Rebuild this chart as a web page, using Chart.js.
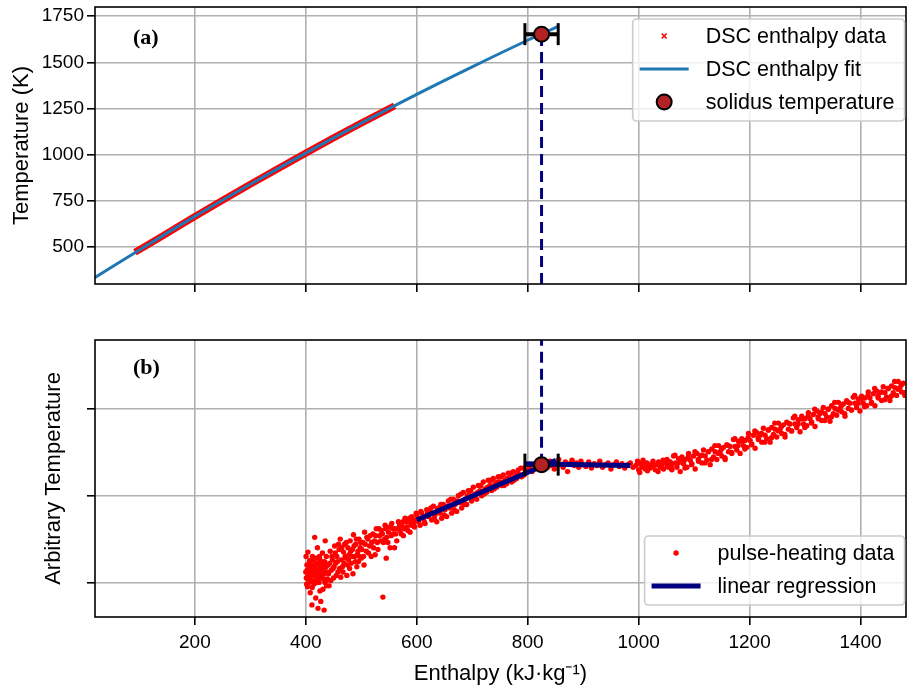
<!DOCTYPE html>
<html>
<head>
<meta charset="utf-8">
<script src="https://cdn.jsdelivr.net/npm/chart.js@4.4.0/dist/chart.umd.min.js"></script>
<style>
body{margin:0;background:#fff;}
#lienzo{position:relative;width:907px;height:689px;background:#fff;}
#lienzo canvas{position:absolute;left:0;}
</style>
</head>
<body>
<div id="lienzo">
<canvas id="grafA" width="907" height="300" style="top:0"></canvas>
<canvas id="grafB" width="907" height="389" style="top:300px"></canvas>
</div>
<script>
// ---- panel (a): DSC ----
var ticksX = [200, 400, 600, 800, 1000, 1200, 1400];
var ticksTemp = [500, 750, 1000, 1250, 1500, 1750];
var dscH = [92, 150, 200, 250, 300, 350, 400, 450, 500, 560];
var dscT = [472, 575, 666, 754, 840, 925, 1009, 1091, 1171, 1265];
var ajusteH = [20, 100, 200, 300, 400, 500, 600, 700, 800, 855];
var ajusteT = [335, 484, 666, 840, 1009, 1171, 1327, 1476, 1620, 1695];
var solidusH = 825;
var solidusErr = 30;
var solidusT = 1653;

// ---- panel (b): pulse heating (enthalpy, arbitrary temperature) ----
var ticksArb = [1, 2, 3];
var solidusArb = 2.36;
var regresion1H = [600, 851];
var regresion1T = [1.72, 2.41];
var regresion2H = [795, 985];
var regresion2T = [2.37, 2.35];
var pulsoA = [[400,1.12],[401,1.05],[402,1.20],[403,0.95],[404,1.35],[405,1.10],[406,1.00],[407,1.25],[408,0.88],[409,1.16],[410,1.08],[411,0.74],[412,1.30],[413,1.02],[414,1.18],[415,0.98],[416,1.52],[417,1.12],[418,0.82],[419,1.22],[420,1.06],[421,1.40],[422,0.70],[423,1.14],[424,1.00],[425,1.27],[426,1.10],[427,0.78],[428,1.20],[429,1.05],[430,1.34],[431,0.92],[432,1.16],[433,0.68],[434,1.24],[435,1.48],[436,1.02],[437,1.30],[438,1.12],[440,1.20],[442,0.96],[444,1.36],[446,1.14],[448,1.26],[450,1.05],[452,1.42],[454,1.22],[456,1.30],[458,1.12],[460,1.38],[462,1.50],[464,1.26],[466,1.18],[468,1.35],[470,1.44],[472,1.28],[474,1.08],[476,1.40],[478,1.32],[480,1.48],[482,1.22],[484,1.38],[486,1.55],[488,1.30],[490,1.44],[492,1.18],[494,1.36],[496,1.50],[498,1.40],[500,1.28],[503,1.46],[506,1.58],[509,1.36],[512,1.50],[515,1.42],[518,1.30],[521,1.56],[524,1.48],[527,1.62],[530,1.38],[533,1.54],[536,1.60],[539,0.83],[540,1.46],[543,1.66],[546,1.52],[549,1.58],[552,1.40],[555,1.68],[558,1.56],[561,1.62],[564,1.48],[567,1.70],[570,1.60],[573,1.66],[576,1.54],[579,1.74],[582,1.64],[585,1.70],[588,1.58],[591,1.76],[594,1.68],[597,1.72],
  [403.5,1.08],[405.5,1.15],[407.5,1.04],[409.5,1.22],[412.5,1.10],[414.5,1.00],[416.5,1.14],[418.5,1.28],[420.5,1.02],[423.5,1.18],[426.5,1.06],[429.5,1.24],[432.5,1.04],[437.5,0.96],[441,1.10],[445,1.02],[449,1.16],[455,1.08],[463,1.06],[467,1.12],[475,1.20],[485,1.10],[495,1.24],[505,1.20],[525,1.32],[545,1.28],[560,1.40],
  [400.5,1.30],[401.5,0.98],[402.5,1.14],[404.5,1.04],[406.5,1.22],[408.5,1.12],[410.5,1.18],[411.5,0.94],[413.5,1.26],[415.5,1.08],[417.5,1.20],[419.5,1.00],[421.5,1.12],[422.5,1.22],[424.5,1.30],[425.5,0.90],[427.5,1.16],[428.5,1.08],[430.5,1.14],[431.5,1.20],[433.5,1.10],[434.5,1.00],[436.5,1.18],[439,1.04],[443,1.22],[447,1.30],[451,1.18],[453,1.34],[457,1.24],[459,1.44],[461,1.16],[465,1.40],[469,1.22],[471,1.30],[473,1.46],[477,1.26],[479,1.16],[481,1.36],[483,1.30],[487,1.42],[489,1.24],[491,1.50],[493,1.32],[497,1.30],[499,1.46],[501,1.38],[504,1.30],[507,1.44],[510,1.52],[513,1.34],[516,1.54],[519,1.46],[522,1.40],[526,1.54],[529,1.46],[532,1.62],[535,1.48],[538,1.56],[542,1.50],[544,1.62],[548,1.46],[551,1.64],[554,1.54],[557,1.62],[562,1.56],[566,1.62],[569,1.66],[572,1.56],[575,1.70],[578,1.62],[581,1.70],[584,1.60],[587,1.74],[590,1.66],[593,1.72],[596,1.64],[599,1.80]];
var pulsoB = [[600,1.78],[603,1.70],[606,1.66],[609,1.80],[612,1.74],[615,1.68],[618,1.84],[621,1.76],[624,1.82],[627,1.72],[630,1.88],[633,1.78],[636,1.70],[639,1.86],[642,1.80],[645,1.74],[648,1.90],[651,1.84],[654,1.76],[657,1.94],[660,1.86],[663,1.80],[666,1.96],[669,1.90],[672,1.82],[675,2.00],[678,1.92],[681,1.86],[684,2.04],[687,1.96],[690,1.90],[693,2.06],[696,2.00],[699,1.94],[702,2.10],[705,2.02],[708,1.96],[711,2.12],[714,2.06],[717,2.00],[720,2.16],[723,2.08],[726,2.04],[729,2.18],[732,2.12],[735,2.06],[738,2.20],[741,2.14],[744,2.10],[747,2.22],[750,2.16],[753,2.12],[756,2.24],[759,2.18],[762,2.14],[765,2.26],[768,2.20],[771,2.16],[774,2.28],[777,2.22],[780,2.20],[783,2.30],[786,2.24],[789,2.22],[792,2.32],[795,2.26],[798,2.28],
  [601.5,1.74],[607.5,1.82],[613.5,1.70],[619.5,1.80],[625.5,1.86],[631.5,1.74],[637.5,1.84],[643.5,1.90],[649.5,1.78],[655.5,1.88],[661.5,1.96],[667.5,1.84],[673.5,1.94],[679.5,2.02],[685.5,1.90],[691.5,2.00],[697.5,2.06],[703.5,1.98],[709.5,2.04],[715.5,2.12],[721.5,2.02],[727.5,2.10],[733.5,2.18],[739.5,2.08],[745.5,2.16],[751.5,2.22],[757.5,2.12],[763.5,2.20],[769.5,2.26],[775.5,2.18],[781.5,2.26],[787.5,2.32],[793.5,2.24]];
var pulsoC = [[800,2.30],[804,2.34],[808,2.28],[812,2.36],[816,2.32],[820,2.38],[824,2.34],[828,2.30],[832,2.37],[836,2.33],[840,2.40],[844,2.35],[848,2.31],[852,2.38],[856,2.42],[860,2.36],[864,2.33],[868,2.39],[872,2.28],[876,2.37],[880,2.41],[884,2.35],[888,2.38],[892,2.33],[896,2.40],[900,2.36],[905,2.34],[910,2.39],[915,2.32],[920,2.37],[925,2.35],[930,2.40],[935,2.33],[940,2.36],[945,2.38],[950,2.31],[955,2.36],[960,2.39],[965,2.34],[970,2.37],[975,2.32],[980,2.36],[985,2.38],[990,2.33],[995,2.35],[1000,2.30],[1003,2.37],[1006,2.33],[1009,2.36],[1012,2.31],[1015,2.38],[1018,2.34],[1021,2.32],[1024,2.37],[1027,2.35],[1030,2.30],[1033,2.36],[1036,2.39],[1039,2.33],[1042,2.36],[1045,2.31],[1048,2.38],
  [998,2.40],[1002,2.27],[1008,2.41],[1016,2.29],[1026,2.40],[1035,2.28],[1044,2.41],[1052,2.34],[1056,2.38],[1060,2.36]];
var pulsoD = [[1051,2.42],[1054,2.33],[1057,2.39],[1060,2.30],[1063,2.46],[1066,2.38],[1069,2.33],[1072,2.43],[1075,2.28],[1078,2.45],[1081,2.37],[1084,2.42],[1087,2.33],[1090,2.49],[1093,2.41],[1096,2.37],[1099,2.46],[1102,2.31],[1105,2.49],[1108,2.40],[1111,2.46],[1114,2.38],[1117,2.53],[1120,2.46],[1123,2.41],[1126,2.51],[1129,2.36],[1132,2.54],[1135,2.45],[1138,2.51],[1141,2.42],[1144,2.58],[1147,2.51],[1150,2.46],[1153,2.56],[1156,2.42],[1159,2.59],[1162,2.51],[1165,2.57],[1168,2.49],[1171,2.65],[1174,2.57],[1177,2.53],[1180,2.63],[1183,2.49],[1186,2.66],[1189,2.58],[1192,2.64],[1195,2.56],[1198,2.72],[1201,2.64],[1204,2.60],[1207,2.70],[1210,2.55],[1213,2.73],[1216,2.65],[1219,2.70],[1222,2.62],[1225,2.78],[1228,2.70],[1231,2.66],[1234,2.76],[1237,2.62],[1240,2.79],[1243,2.71],[1246,2.77],[1249,2.68],[1252,2.84],[1255,2.77],[1258,2.72],[1261,2.82],[1264,2.68],[1267,2.85],[1270,2.77],[1273,2.83],[1276,2.75],[1279,2.90],[1282,2.83],[1285,2.79],[1288,2.88],[1291,2.74],[1294,2.92],[1297,2.83],[1300,2.89],[1303,2.81],[1306,2.96],[1309,2.89],[1312,2.85],[1315,2.94],[1318,2.80],[1321,2.98],[1324,2.89],[1327,2.95],[1330,2.87],[1333,3.02],[1336,2.95],[1339,2.91],[1342,3.00],[1345,2.86],[1348,3.04],[1351,2.95],[1354,3.01],[1357,2.93],[1360,3.08],[1363,3.01],[1366,2.97],[1369,3.06],[1372,2.92],[1375,3.10],[1378,3.01],[1381,3.07],[1384,2.99],[1387,3.14],[1390,3.07],[1393,3.02],[1396,3.12],[1399,2.98],[1402,3.15],[1405,3.07],[1408,3.13],[1411,3.04],[1414,3.20],[1417,3.13],[1420,3.08],[1423,3.18],[1426,3.04],[1429,3.21],[1432,3.13],[1435,3.19],[1438,3.10],[1441,3.26],[1444,3.19],[1447,3.14],[1450,3.24],[1453,3.10],[1456,3.27],[1459,3.19],[1462,3.25],[1465,3.16],[1468,3.32],[1471,3.25],[1474,3.20],[1477,3.30],[1480,3.16],
  [1053.5,2.40],[1059.5,2.31],[1065.5,2.47],[1071.5,2.38],[1077.5,2.42],[1083.5,2.32],[1089.5,2.45],[1095.5,2.36],[1101.5,2.51],[1107.5,2.42],[1113.5,2.47],[1119.5,2.38],[1125.5,2.51],[1131.5,2.42],[1137.5,2.58],[1143.5,2.49],[1149.5,2.54],[1155.5,2.44],[1161.5,2.58],[1167.5,2.50],[1173.5,2.66],[1179.5,2.58],[1185.5,2.63],[1191.5,2.54],[1197.5,2.67],[1203.5,2.59],[1209.5,2.75],[1215.5,2.67],[1221.5,2.72],[1227.5,2.62],[1233.5,2.76],[1239.5,2.67],[1245.5,2.84],[1251.5,2.75],[1257.5,2.80],[1263.5,2.71],[1269.5,2.84],[1275.5,2.75],[1281.5,2.92],[1287.5,2.83],[1293.5,2.89],[1299.5,2.79],[1305.5,2.92],[1311.5,2.84],[1317.5,3.00],[1323.5,2.91],[1329.5,2.97],[1335.5,2.87],[1341.5,3.00],[1347.5,2.91],[1353.5,3.08],[1359.5,2.99],[1365.5,3.04],[1371.5,2.95],[1377.5,3.08],[1383.5,2.99],[1389.5,3.16],[1395.5,3.07],[1401.5,3.12],[1407.5,3.03],[1413.5,3.16],[1419.5,3.07],[1425.5,3.24],[1431.5,3.15],[1437.5,3.20],[1443.5,3.11],[1449.5,3.24],[1455.5,3.15],[1461.5,3.32],[1467.5,3.23],[1473.5,3.28],[1479.5,3.19]];

var fuente = '"Liberation Sans", Arial, sans-serif';
Chart.defaults.font.family = fuente;
Chart.defaults.color = '#000';

function xy(xs, ys) {
    return xs.map((x, i) => ({x: x, y: ys[i]}));
}
function pares(lista) {
    return lista.map(p => ({x: p[0], y: p[1]}));
}

var rejilla = {color: '#b0b0b0', lineWidth: 1.6, tickColor: '#000', tickLength: 8, tickWidth: 1.6};

function ejeX(conEtiquetas) {
    return {
        type: 'linear', min: 20, max: 1482,
        afterBuildTicks: a => { a.ticks = ticksX.map(v => ({value: v})); },
        afterFit: a => { a.height = conEtiquetas ? 72 : 16; a.paddingLeft = 0; a.paddingRight = 0; },
        grid: rejilla,
        border: {display: false},
        ticks: {display: conEtiquetas, font: {size: 19}, padding: 6, maxRotation: 0, autoSkip: false, callback: v => String(v)},
        title: {display: conEtiquetas, text: 'Enthalpy (kJ·kg⁻¹)', font: {size: 22}, padding: {top: 0, bottom: 2}}
    };
}

// marco negro alrededor del area
var marco = {
    id: 'marco',
    afterDatasetsDraw(chart) {
        let a = chart.chartArea, ctx = chart.ctx;
        ctx.save();
        ctx.strokeStyle = '#000';
        ctx.lineWidth = 1.6;
        ctx.strokeRect(a.left, a.top, a.right - a.left, a.bottom - a.top);
        ctx.restore();
    }
};

// leyenda tipo matplotlib + etiqueta del panel
var leyendaCaja = {
    id: 'leyendaCaja',
    afterDraw(chart, args, opts) {
        let a = chart.chartArea, ctx = chart.ctx;
        ctx.save();
        ctx.font = 'bold 22px "Liberation Serif", serif';
        ctx.fillStyle = '#000';
        ctx.textBaseline = 'middle';
        ctx.textAlign = 'left';
        ctx.fillText(opts.panel, a.left + 38, a.top + opts.panelY);

        ctx.font = '21.5px ' + fuente;
        let items = opts.items;
        let anchoTexto = Math.max(...items.map(it => ctx.measureText(chart.data.datasets[it.ds].label).width));
        let ancho = 7 + 49 + 17 + anchoTexto + 10;
        let alto = 17 + (items.length - 1) * 33 + 19;
        let x0 = a.right - 1.5 - ancho;
        let y0 = opts.arriba ? a.top + 12 : a.bottom - 12 - alto;
        ctx.beginPath();
        ctx.roundRect(x0, y0, ancho, alto, 4);
        ctx.fillStyle = 'rgba(255,255,255,0.8)';
        ctx.fill();
        ctx.strokeStyle = '#cccccc';
        ctx.lineWidth = 1.6;
        ctx.stroke();
        items.forEach((it, i) => {
            let ds = chart.data.datasets[it.ds];
            let y = y0 + 17 + i * 33;
            let xm = x0 + 7 + 24.5;
            ctx.beginPath();
            if (it.tipo === 'linea') {
                ctx.strokeStyle = ds.borderColor;
                ctx.lineWidth = ds.borderWidth;
                ctx.moveTo(x0 + 7, y);
                ctx.lineTo(x0 + 56, y);
                ctx.stroke();
            } else if (it.tipo === 'cruz') {
                ctx.strokeStyle = ds.borderColor;
                ctx.lineWidth = 1.6;
                ctx.moveTo(xm - 2.5, y - 2.5); ctx.lineTo(xm + 2.5, y + 2.5);
                ctx.moveTo(xm - 2.5, y + 2.5); ctx.lineTo(xm + 2.5, y - 2.5);
                ctx.stroke();
            } else {
                ctx.arc(xm, y, ds.pointRadius, 0, Math.PI * 2);
                ctx.fillStyle = ds.pointBackgroundColor;
                ctx.fill();
                if (ds.pointBorderWidth) {
                    ctx.strokeStyle = ds.pointBorderColor;
                    ctx.lineWidth = ds.pointBorderWidth;
                    ctx.stroke();
                }
            }
            ctx.fillStyle = '#000';
            ctx.fillText(ds.label, x0 + 73, y + 1);
        });
        ctx.restore();
    }
};

// ---------- grafica (a) ----------
new Chart(document.getElementById('grafA'), {
    type: 'scatter',
    data: {
        datasets: [
            {label: 'solidus temperature', data: [{x: solidusH, y: solidusT}], pointRadius: 7.5,
             pointBackgroundColor: '#b22222', pointBorderColor: '#000', pointBorderWidth: 2},
            {label: 'caps', data: [{x: solidusH - solidusErr, y: solidusT}, {x: solidusH + solidusErr, y: solidusT}],
             pointStyle: 'line', rotation: 90, pointRadius: 11, pointBorderWidth: 3, pointBorderColor: '#000'},
            {label: 'error', data: [{x: solidusH - solidusErr, y: solidusT}, {x: solidusH + solidusErr, y: solidusT}],
             showLine: true, borderColor: '#000', borderWidth: 4, pointRadius: 0},
            {label: 'solidus line', data: [{x: solidusH, y: 300}, {x: solidusH, y: solidusT}],
             showLine: true, borderColor: '#000080', borderWidth: 3, borderDash: [11, 6], pointRadius: 0},
            {label: 'DSC enthalpy fit', data: xy(ajusteH, ajusteT), showLine: true, cubicInterpolationMode: 'monotone',
             borderColor: '#1f77b4', borderWidth: 3, pointRadius: 0},
            {label: 'DSC enthalpy data', data: xy(dscH, dscT), showLine: true, cubicInterpolationMode: 'monotone',
             borderColor: '#ff0000', borderWidth: 7, pointRadius: 0}
        ]
    },
    options: {
        responsive: false, animation: false, events: [],
        layout: {autoPadding: false, padding: {top: 7, right: 1, left: 0, bottom: 0}},
        plugins: {
            legend: {display: false}, tooltip: {enabled: false},
            leyendaCaja: {panel: '(a)', panelY: 31, arriba: true,
                items: [{ds: 5, tipo: 'cruz'}, {ds: 4, tipo: 'linea'}, {ds: 0, tipo: 'circulo'}]}
        },
        scales: {
            x: ejeX(false),
            y: {
                type: 'linear', min: 300, max: 1800,
                afterBuildTicks: a => { a.ticks = ticksTemp.map(v => ({value: v})); },
                afterFit: a => { a.width = 95; a.paddingTop = 0; a.paddingBottom = 0; },
                grid: rejilla,
                border: {display: false},
                ticks: {font: {size: 19}, padding: 3, callback: v => String(v)},
                title: {display: true, text: 'Temperature (K)', font: {size: 22}, padding: {top: 9}}
            }
        }
    },
    plugins: [marco, leyendaCaja]
});

// ---------- grafica (b) ----------
new Chart(document.getElementById('grafB'), {
    type: 'scatter',
    data: {
        datasets: [
            {label: 'solidus', data: [{x: solidusH, y: solidusArb}], pointRadius: 7.5,
             pointBackgroundColor: '#b22222', pointBorderColor: '#000', pointBorderWidth: 2},
            {label: 'caps', data: [{x: solidusH - solidusErr, y: solidusArb}, {x: solidusH + solidusErr, y: solidusArb}],
             pointStyle: 'line', rotation: 90, pointRadius: 11, pointBorderWidth: 3, pointBorderColor: '#000'},
            {label: 'linear regression', data: xy(regresion1H, regresion1T), showLine: true,
             borderColor: '#000080', borderWidth: 5, pointRadius: 0},
            {label: 'regression 2', data: xy(regresion2H, regresion2T), showLine: true,
             borderColor: '#000080', borderWidth: 5, pointRadius: 0},
            {label: 'error', data: [{x: solidusH - solidusErr, y: solidusArb}, {x: solidusH + solidusErr, y: solidusArb}],
             showLine: true, borderColor: '#000', borderWidth: 4, pointRadius: 0},
            {label: 'solidus line', data: [{x: solidusH, y: solidusArb}, {x: solidusH, y: 3.8}],
             showLine: true, borderColor: '#000080', borderWidth: 3, borderDash: [11, 6], pointRadius: 0},
            {label: 'pulse-heating data', data: pares(pulsoA.concat(pulsoB, pulsoC, pulsoD)),
             pointRadius: 2.7, pointBorderWidth: 0, pointBackgroundColor: '#ff0000', backgroundColor: '#ff0000'}
        ]
    },
    options: {
        responsive: false, animation: false, events: [],
        layout: {autoPadding: false, padding: {top: 40, right: 1, left: 0, bottom: 0}},
        plugins: {
            legend: {display: false}, tooltip: {enabled: false},
            leyendaCaja: {panel: '(b)', panelY: 28, arriba: false,
                items: [{ds: 6, tipo: 'punto'}, {ds: 2, tipo: 'linea'}]}
        },
        scales: {
            x: ejeX(true),
            y: {
                type: 'linear', min: 0.6, max: 3.8,
                afterBuildTicks: a => { a.ticks = ticksArb.map(v => ({value: v})); },
                afterFit: a => { a.width = 95; a.paddingTop = 0; a.paddingBottom = 0; },
                grid: rejilla,
                border: {display: false},
                ticks: {display: false},
                title: {display: true, text: 'Arbitrary Temperature', font: {size: 22}, padding: {top: 41}}
            }
        }
    },
    plugins: [marco, leyendaCaja]
});
</script>
</body>
</html>
